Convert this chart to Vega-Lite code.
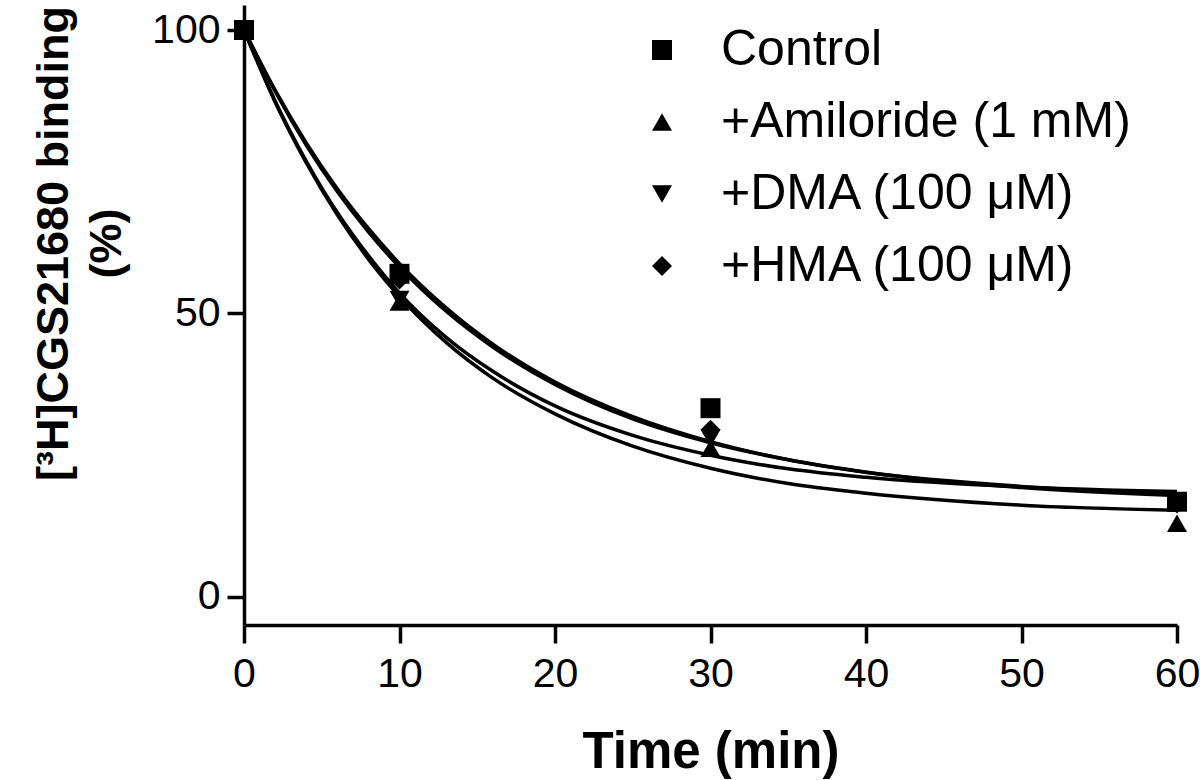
{
  "$schema": "https://vega.github.io/schema/vega-lite/v6.json",
  "autosize": {"type": "none"},
  "padding": {"left": 244, "top": 5, "right": 23, "bottom": 155},
  "width": 933,
  "height": 620,
  "background": "white",
  "config": {
    "view": {"stroke": null},
    "font": "Liberation Sans",
    "axis": {
      "grid": false,
      "labelFlush": false,
      "labelOverlap": false,
      "domainColor": "black",
      "domainWidth": 3.5,
      "tickColor": "black",
      "tickWidth": 3.5,
      "labelColor": "black",
      "labelFont": "Liberation Sans",
      "labelFontSize": 41,
      "titleColor": "black",
      "titleFont": "Liberation Sans",
      "titleFontWeight": "bold"
    }
  },
  "layer": [
    {
      "data": {"values": [
        {"s": "Control", "t": 0, "v": 100}, {"s": "Control", "t": 2, "v": 89.4}, {"s": "Control", "t": 4, "v": 80.1}, {"s": "Control", "t": 6, "v": 72.0}, {"s": "Control", "t": 8, "v": 65.0}, {"s": "Control", "t": 10, "v": 58.8}, {"s": "Control", "t": 13, "v": 51.0}, {"s": "Control", "t": 16, "v": 44.6}, {"s": "Control", "t": 20, "v": 37.9}, {"s": "Control", "t": 25, "v": 31.8}, {"s": "Control", "t": 30, "v": 27.4}, {"s": "Control", "t": 35, "v": 24.2}, {"s": "Control", "t": 40, "v": 22.0}, {"s": "Control", "t": 50, "v": 19.3}, {"s": "Control", "t": 60, "v": 17.9},
        {"s": "HMA", "t": 0, "v": 100}, {"s": "HMA", "t": 2, "v": 89.2}, {"s": "HMA", "t": 4, "v": 79.7}, {"s": "HMA", "t": 6, "v": 71.5}, {"s": "HMA", "t": 8, "v": 64.4}, {"s": "HMA", "t": 10, "v": 58.2}, {"s": "HMA", "t": 13, "v": 50.4}, {"s": "HMA", "t": 16, "v": 44.1}, {"s": "HMA", "t": 20, "v": 37.5}, {"s": "HMA", "t": 25, "v": 31.4}, {"s": "HMA", "t": 30, "v": 27.2}, {"s": "HMA", "t": 35, "v": 24.2}, {"s": "HMA", "t": 40, "v": 22.0}, {"s": "HMA", "t": 50, "v": 19.5}, {"s": "HMA", "t": 60, "v": 18.2},
        {"s": "Amiloride", "t": 0, "v": 100}, {"s": "Amiloride", "t": 2, "v": 87.3}, {"s": "Amiloride", "t": 4, "v": 76.6}, {"s": "Amiloride", "t": 6, "v": 67.4}, {"s": "Amiloride", "t": 8, "v": 59.6}, {"s": "Amiloride", "t": 10, "v": 53.0}, {"s": "Amiloride", "t": 13, "v": 44.9}, {"s": "Amiloride", "t": 16, "v": 38.6}, {"s": "Amiloride", "t": 20, "v": 32.3}, {"s": "Amiloride", "t": 25, "v": 26.6}, {"s": "Amiloride", "t": 30, "v": 22.7}, {"s": "Amiloride", "t": 35, "v": 20.0}, {"s": "Amiloride", "t": 40, "v": 18.3}, {"s": "Amiloride", "t": 50, "v": 16.2}, {"s": "Amiloride", "t": 60, "v": 15.3},
        {"s": "DMA", "t": 0, "v": 100}, {"s": "DMA", "t": 2, "v": 87.5}, {"s": "DMA", "t": 4, "v": 76.9}, {"s": "DMA", "t": 6, "v": 67.8}, {"s": "DMA", "t": 8, "v": 60.2}, {"s": "DMA", "t": 10, "v": 53.6}, {"s": "DMA", "t": 13, "v": 45.8}, {"s": "DMA", "t": 16, "v": 39.8}, {"s": "DMA", "t": 20, "v": 33.7}, {"s": "DMA", "t": 25, "v": 28.5}, {"s": "DMA", "t": 30, "v": 25.0}, {"s": "DMA", "t": 35, "v": 22.6}, {"s": "DMA", "t": 40, "v": 21.1}, {"s": "DMA", "t": 50, "v": 19.4}, {"s": "DMA", "t": 60, "v": 18.6}
      ]},
      "mark": {"type": "line", "color": "black", "strokeWidth": 3.5, "interpolate": "monotone"},
      "encoding": {
        "x": {"field": "t", "type": "quantitative", "scale": {"domain": [0, 60], "nice": false, "zero": false},
          "axis": {"values": [0, 10, 20, 30, 40, 50, 60], "tickSize": 18, "labelPadding": 11, "labelAlign": "center", "title": "Time (min)", "titleFontSize": 51, "titleBaseline": "alphabetic", "titleY": 142}},
        "y": {"field": "v", "type": "quantitative", "scale": {"domain": [-4.94, 104.41], "nice": false, "zero": false},
          "axis": {"values": [0, 50, 100], "tickSize": 17, "labelPadding": 7,
            "title": ["[³H]CGS21680 binding", "(%)"], "titleFontSize": 45, "titleLineHeight": 53, "titleAngle": -90, "titleBaseline": "alphabetic", "titleAlign": "center", "titleX": -177, "titleY": 238}},
        "detail": {"field": "s"}
      }
    },
    {
      "data": {"values": [
        {"s": "Control", "t": 0, "v": 100}, {"s": "Control", "t": 10, "v": 57.0}, {"s": "Control", "t": 30, "v": 33.3}, {"s": "Control", "t": 60, "v": 16.8},
        {"s": "+Amiloride (1 mM)", "t": 0, "v": 100}, {"s": "+Amiloride (1 mM)", "t": 10, "v": 52.0}, {"s": "+Amiloride (1 mM)", "t": 30, "v": 26.2}, {"s": "+Amiloride (1 mM)", "t": 60, "v": 13.0},
        {"s": "+DMA (100 μM)", "t": 0, "v": 100}, {"s": "+DMA (100 μM)", "t": 10, "v": 52.5}, {"s": "+DMA (100 μM)", "t": 30, "v": 28.0}, {"s": "+DMA (100 μM)", "t": 60, "v": 17.0},
        {"s": "+HMA (100 μM)", "t": 0, "v": 100}, {"s": "+HMA (100 μM)", "t": 10, "v": 56.0}, {"s": "+HMA (100 μM)", "t": 30, "v": 29.5}, {"s": "+HMA (100 μM)", "t": 60, "v": 16.5}
      ]},
      "mark": {"type": "point", "filled": true, "color": "black", "opacity": 1, "size": 400},
      "encoding": {
        "x": {"field": "t", "type": "quantitative"},
        "y": {"field": "v", "type": "quantitative"},
        "shape": {"field": "s", "type": "nominal",
          "scale": {"domain": ["Control", "+Amiloride (1 mM)", "+DMA (100 μM)", "+HMA (100 μM)"], "range": ["square", "triangle-up", "triangle-down", "diamond"]},
          "legend": {"title": null, "orient": "none", "legendX": 393, "legendY": 20, "padding": 0,
            "symbolSize": 400, "symbolFillColor": "black", "symbolStrokeColor": "black", "symbolStrokeWidth": 0, "symbolOpacity": 1,
            "labelFont": "Liberation Sans", "labelFontSize": 50, "labelColor": "black", "labelOffset": 34, "rowPadding": 22, "labelLimit": 600}}
      }
    }
  ]
}
